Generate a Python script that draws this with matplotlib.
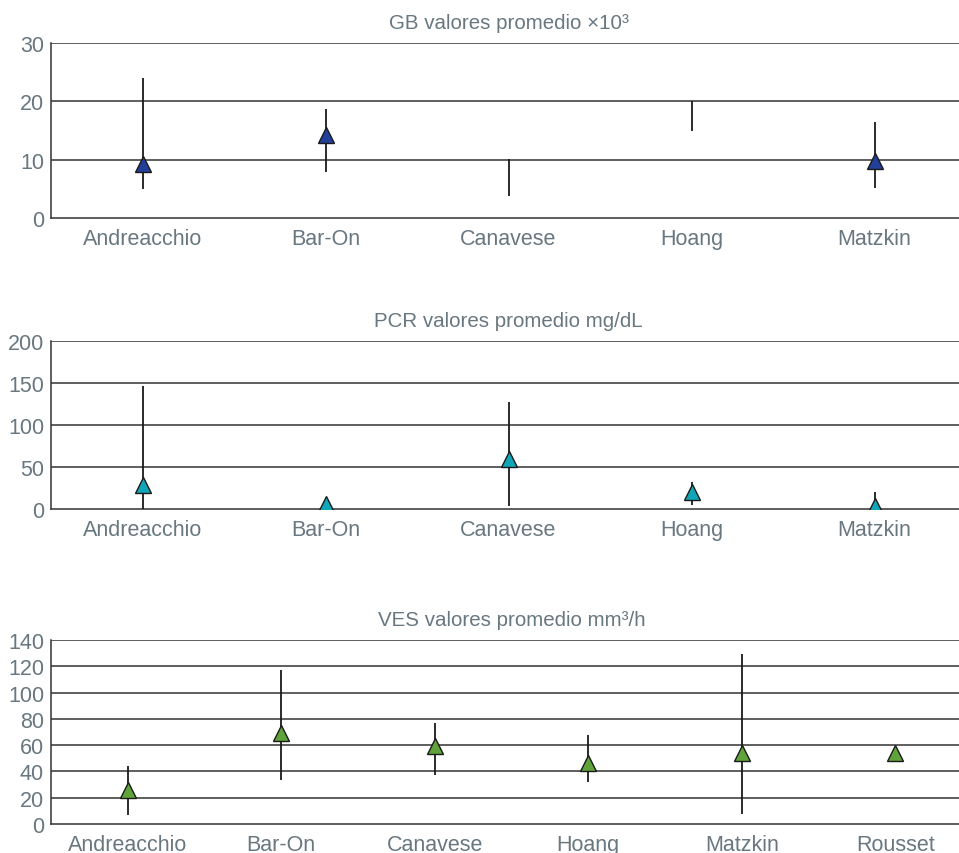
import numpy as np
import matplotlib
matplotlib.use("Agg")
import matplotlib.pyplot as plt
from matplotlib import font_manager

names = {f.name for f in font_manager.fontManager.ttflist}
FONT = 'Liberation Sans Narrow' if 'Liberation Sans Narrow' in names else 'Liberation Sans'
plt.rcParams['font.family'] = [FONT, 'DejaVu Sans']

# ---- data ----
cats_gb = ['Andreacchio', 'Bar-On', 'Canavese', 'Hoang', 'Matzkin']
gb_mean = [9.3, 14.3, np.nan, np.nan, 9.7]
gb_low = [5.0, 7.9, 3.8, 14.9, 5.1]
gb_high = [24.0, 18.7, 10.1, 20.0, 16.5]

cats_pcr = ['Andreacchio', 'Bar-On', 'Canavese', 'Hoang', 'Matzkin']
pcr_mean = [28.6, 5.4, 59.5, 20.0, 3.6]
pcr_low = [0.0, 5.4, 3.0, 5.0, 0.0]
pcr_high = [146.0, 5.4, 127.0, 32.0, 20.0]

cats_ves = ['Andreacchio', 'Bar-On', 'Canavese', 'Hoang', 'Matzkin', 'Rousset']
ves_mean = [25.9, 69.0, 59.0, 46.5, 54.0, 54.0]
ves_low = [7.0, 33.5, 37.0, 32.0, 7.6, 54.0]
ves_high = [44.0, 117.0, 77.0, 68.0, 129.0, 54.0]

titles = ['GB valores promedio ×10³', 'PCR valores promedio mg/dL', 'VES valores promedio mm³/h']
yticks = [[0, 10, 20, 30], [0, 50, 100, 150, 200], list(range(0, 141, 20))]
colors = ['#22409a', '#11a5b8', '#5fa33a']

W, H = 959, 854
fig = plt.figure(figsize=(W / 100, H / 100), dpi=100)
TXT = '#687780'

# axes boxes in pixels: (left, top, right, bottom)
boxes = [(51, 44, 966, 219), (51, 342, 966, 510), (51, 641, 972, 825)]
datasets = [(cats_gb, gb_mean, gb_low, gb_high),
            (cats_pcr, pcr_mean, pcr_low, pcr_high),
            (cats_ves, ves_mean, ves_low, ves_high)]

for i, ((l, t, r, b), (cats, m, lo, hi)) in enumerate(zip(boxes, datasets)):
    ax = fig.add_axes([l / W, 1 - b / H, (r - l) / W, (b - t) / H])
    x = np.arange(len(cats))
    ax.vlines(x, lo, hi, color='#1a1a1a', lw=1.3, zorder=3)
    ax.plot(x, m, linestyle='none', marker='^', ms=11.5, mfc=colors[i],
            mec='#1a1a1a', mew=1.0, zorder=4)
    ax.set_xlim(-0.5, len(cats) - 0.5)
    ax.set_ylim(yticks[i][0], yticks[i][-1])
    ax.set_yticks(yticks[i])
    ax.set_xticks(x)
    ax.set_xticklabels(cats)
    ax.tick_params(length=0, labelsize=15.5, colors=TXT, pad=7)
    ax.tick_params(axis='y', pad=5)
    for v in yticks[i][1:]:
        ax.axhline(v, color='#333333', lw=1.1, zorder=1)
    for s in ['right', 'top']:
        ax.spines[s].set_visible(False)
    for s in ['left', 'bottom']:
        ax.spines[s].set_color('#333333')
        ax.spines[s].set_linewidth(1.1)
    ax.set_title(titles[i], fontsize=14.8, color=TXT, pad=11)

fig.savefig('out.png', dpi=100)
